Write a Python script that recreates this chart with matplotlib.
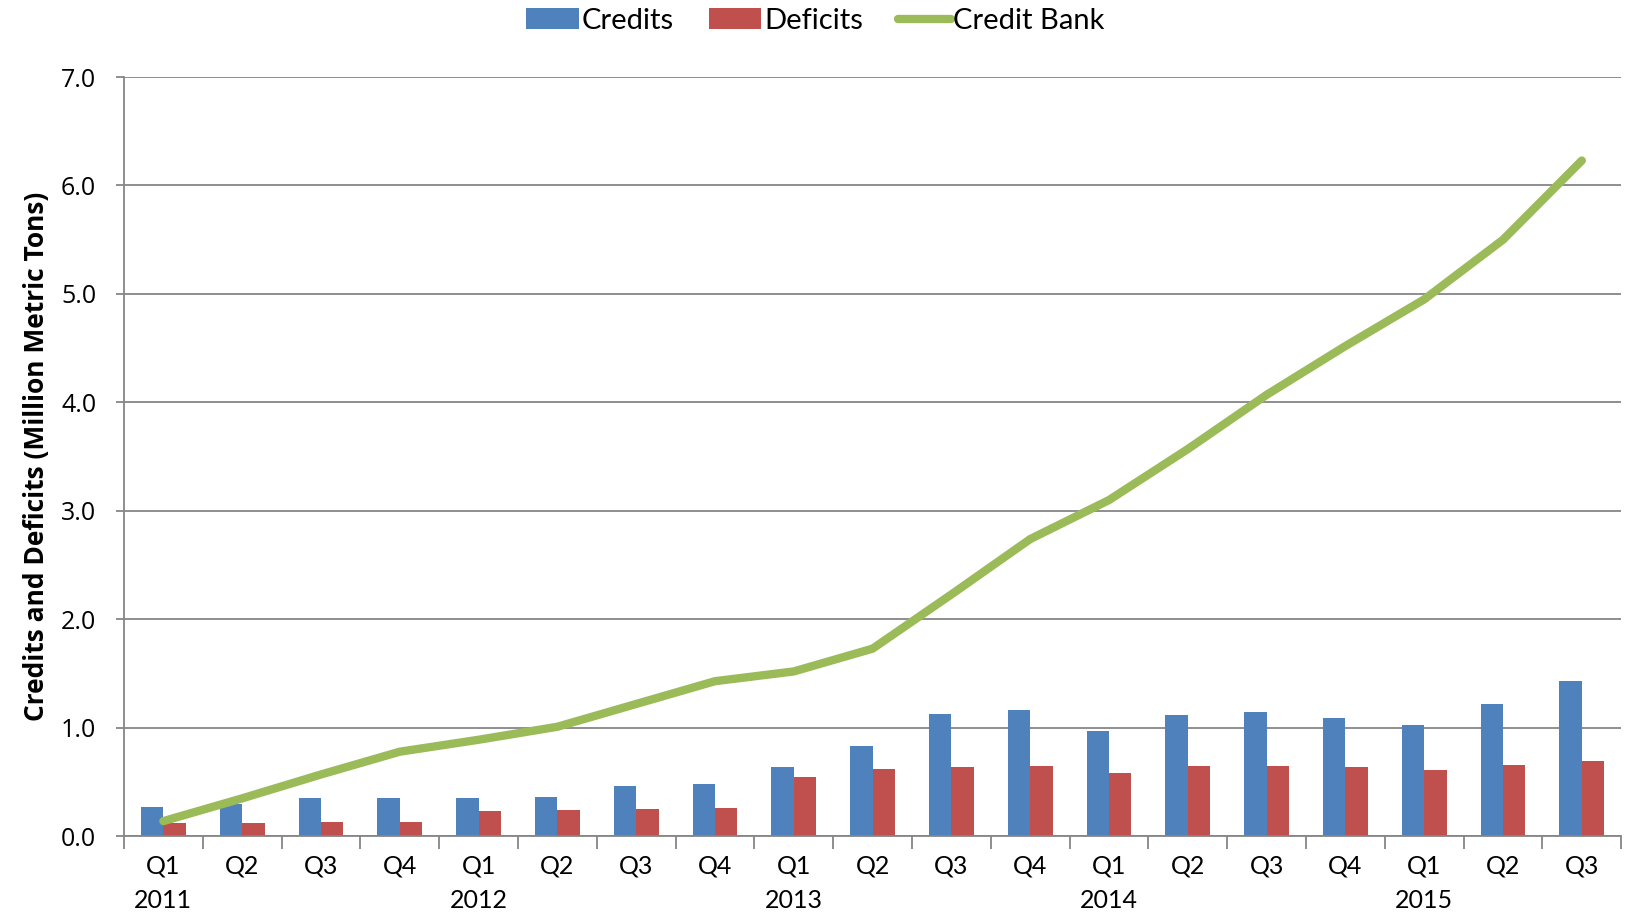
import numpy as np
import matplotlib.pyplot as plt
from matplotlib.transforms import blended_transform_factory

quarters = ["Q1", "Q2", "Q3", "Q4", "Q1", "Q2", "Q3", "Q4", "Q1", "Q2",
            "Q3", "Q4", "Q1", "Q2", "Q3", "Q4", "Q1", "Q2", "Q3"]
years = ["2011", "2012", "2013", "2014", "2015"]
year_start = [0, 4, 8, 12, 16]

credits = [0.27, 0.30, 0.35, 0.35, 0.35, 0.365, 0.46, 0.48, 0.64, 0.83,
           1.13, 1.16, 0.97, 1.12, 1.15, 1.09, 1.03, 1.22, 1.43]
deficits = [0.124, 0.127, 0.133, 0.133, 0.235, 0.245, 0.254, 0.263, 0.548, 0.62,
            0.635, 0.644, 0.588, 0.647, 0.647, 0.641, 0.607, 0.659, 0.693]
credit_bank = [0.14, 0.35, 0.57, 0.78, 0.89, 1.01, 1.22, 1.43, 1.52, 1.73,
               2.23, 2.74, 3.10, 3.57, 4.07, 4.52, 4.95, 5.50, 6.23]

blue = "#4F81BD"
red = "#C0504D"
green = "#9BBB59"
grid_c = "#868686"
sans = ["Open Sans", "DejaVu Sans"]
narrow = ["Lato", "DejaVu Sans"]

fig = plt.figure(figsize=(16.31, 9.17), dpi=100)
ax = fig.add_axes([0.076, 0.088, 0.918, 0.828])

x = np.arange(len(quarters))
w = 0.285
b1 = ax.bar(x - w / 2, credits, w, color=blue, zorder=2)
b2 = ax.bar(x + w / 2, deficits, w, color=red, zorder=2)
ln, = ax.plot(x, credit_bank, color=green, lw=6, solid_capstyle="round",
              solid_joinstyle="round", zorder=3)

ax.set_xlim(-0.5, len(quarters) - 0.5)
ax.set_ylim(0, 7)
ticks = np.arange(0, 7.01, 1.0)
ax.set_yticks(ticks)
ax.set_yticklabels([f"{v:.1f}" for v in ticks], family=sans, fontsize=18)
ax.yaxis.grid(True, color=grid_c, lw=1.3, zorder=0)
ax.set_axisbelow(True)

for s in ["top", "right"]:
    ax.spines[s].set_visible(False)
for s in ["left", "bottom"]:
    ax.spines[s].set_color(grid_c)
    ax.spines[s].set_linewidth(1.3)

ax.tick_params(axis="y", length=6, color=grid_c, width=1.3, pad=14)
# tick marks on the category boundaries, labels in the middle
ax.set_xticks(np.arange(-0.5, len(quarters), 1.0))
ax.set_xticklabels([])
ax.tick_params(axis="x", length=9, color=grid_c, width=1.3)
trans = blended_transform_factory(ax.transData, ax.transAxes)
for i, q in enumerate(quarters):
    ax.text(i, -0.024, q, transform=trans, ha="center", va="top",
            family=narrow, fontsize=18)
for yr, i in zip(years, year_start):
    ax.text(i, -0.07, yr, transform=trans, ha="center", va="top",
            family=narrow, fontsize=18)

ax.set_ylabel("Credits and Deficits (Million Metric Tons)", family=sans,
              fontweight="bold", fontsize=19, labelpad=8)

fig.legend([b1, b2, ln], ["Credits", "Deficits", "Credit Bank"],
           loc="upper center", bbox_to_anchor=(0.5, 1.02), ncol=3,
           frameon=False, prop={"family": narrow, "size": 21},
           handlelength=1.8, handleheight=0.7, handletextpad=0.1,
           columnspacing=1.2)

fig.savefig("out.png", dpi=100)
